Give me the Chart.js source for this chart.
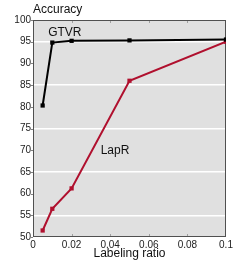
<!DOCTYPE html>
<html><head><meta charset="utf-8">
<script src="https://cdn.jsdelivr.net/npm/chart.js@4/dist/chart.umd.min.js"></script>
<style>html,body{margin:0;padding:0;background:#fff;}#wrap{width:249px;height:266px;}</style>
</head><body><div id="wrap"><canvas id="c" width="249" height="266"></canvas></div>
<script>
const labelingRatio = [0.005, 0.01, 0.02, 0.05, 0.1];
const gtvrAccuracy = [80.3, 94.8, 95.2, 95.3, 95.5];
const laprAccuracy = [51.5, 56.5, 61.2, 86.0, 95.0];
const xTickValues = [0, 0.02, 0.04, 0.06, 0.08, 0.1];
const yTickValues = [50, 55, 60, 65, 70, 75, 80, 85, 90, 95, 100];
const seriesNames = ['GTVR', 'LapR'];

const FONT = "'Liberation Sans', Arial, sans-serif";

const decor = {
  id: 'decor',
  beforeDraw(chart) {
    const a = chart.chartArea, ctx = chart.ctx;
    ctx.save();
    ctx.fillStyle = '#e0e0e0';
    ctx.fillRect(a.left, a.top, a.right - a.left, a.bottom - a.top);
    ctx.restore();
  },
  beforeDatasetsDraw(chart) {
    const a = chart.chartArea, ctx = chart.ctx, xs = chart.scales.x, ys = chart.scales.y;
    ctx.save();
    ctx.strokeStyle = '#a0a0a0';
    ctx.lineWidth = 1;
    xTickValues.slice(1, -1).forEach(v => {
      const px = Math.round(xs.getPixelForValue(v)) + 0.5;
      ctx.beginPath();
      ctx.moveTo(px, a.top); ctx.lineTo(px, a.top + 3);
      ctx.moveTo(px, a.bottom); ctx.lineTo(px, a.bottom - 3);
      ctx.stroke();
    });
    ctx.strokeStyle = '#808080';
    yTickValues.forEach(v => {
      const py = Math.round(ys.getPixelForValue(v)) + 0.5;
      ctx.beginPath();
      ctx.moveTo(a.left - 2, py); ctx.lineTo(a.left, py);
      ctx.stroke();
    });
    ctx.strokeStyle = '#505050';
    ctx.strokeRect(a.left + 0.5, a.top + 0.5, a.right - a.left - 1, a.bottom - a.top - 1);
    ctx.restore();
  },
  afterDraw(chart) {
    const a = chart.chartArea, ctx = chart.ctx, xs = chart.scales.x, ys = chart.scales.y;
    ctx.save();
    ctx.fillStyle = '#111';
    ctx.textBaseline = 'middle';
    ctx.font = '12px ' + FONT;
    ctx.textAlign = 'left';
    ctx.fillText('Accuracy', a.left, 10);
    ctx.textAlign = 'center';
    ctx.fillText('Labeling ratio', (a.left + a.right) / 2, 254);
    ctx.fillText(seriesNames[0], xs.getPixelForValue(0.0165), ys.getPixelForValue(97.1));
    ctx.fillText(seriesNames[1], xs.getPixelForValue(0.0425), ys.getPixelForValue(69.9));
    ctx.restore();
  }
};

new Chart(document.getElementById('c'), {
  type: 'line',
  data: {
    datasets: [
      { label: seriesNames[0], data: labelingRatio.map((x, i) => ({x, y: gtvrAccuracy[i]})),
        borderColor: '#000', backgroundColor: '#000', borderWidth: 2,
        pointStyle: 'rect', pointRadius: 3, pointBorderWidth: 0, tension: 0 },
      { label: seriesNames[1], data: labelingRatio.map((x, i) => ({x, y: laprAccuracy[i]})),
        borderColor: '#b0102e', backgroundColor: '#b0102e', borderWidth: 2,
        pointStyle: 'rect', pointRadius: 3, pointBorderWidth: 0, tension: 0 }
    ]
  },
  options: {
    responsive: false, animation: false, devicePixelRatio: 1,
    layout: { padding: { left: 0, right: 23, top: 20, bottom: 0 } },
    plugins: { legend: { display: false }, tooltip: { enabled: false } },
    scales: {
      x: {
        type: 'linear', min: 0, max: 0.1,
        afterFit(s) { s.height = 29; },
        afterBuildTicks(s) { s.ticks = xTickValues.map(v => ({ value: v })); },
        grid: { display: false, drawTicks: false },
        border: { display: false },
        ticks: { color: '#222', font: { family: FONT, size: 10 }, padding: 2, maxRotation: 0,
                 callback: v => String(v) }
      },
      y: {
        min: 50, max: 100,
        afterFit(s) { s.width = 33; },
        afterBuildTicks(s) { s.ticks = yTickValues.map(v => ({ value: v })); },
        grid: { drawTicks: false, lineWidth: 1.5,
                color: c => (c.tick && c.tick.value % 10 === 5) ? '#ffffff' : 'rgba(0,0,0,0)' },
        border: { display: false },
        ticks: { color: '#222', font: { family: FONT, size: 10 }, padding: 2 }
      }
    }
  },
  plugins: [decor]
});
</script>
</body></html>
